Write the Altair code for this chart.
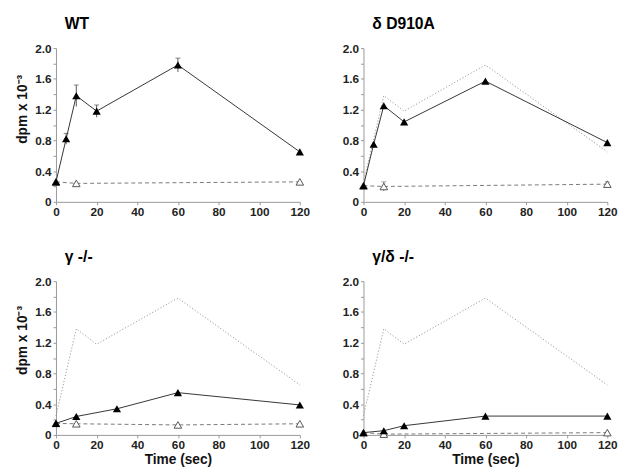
import altair as alt
import pandas as pd

# ---- data ----
panel_names = ["WT", "δ D910A", "γ -/-", "γ/δ -/-"]

# stimulated (filled triangles, solid line)
wt_t = [0, 5, 10, 20, 60, 120]
wt_v = [0.26, 0.82, 1.38, 1.18, 1.78, 0.65]
wt_e = [0, 0.07, 0.14, 0.08, 0.09, 0]

d910_t = [0, 5, 10, 20, 60, 120]
d910_v = [0.21, 0.75, 1.25, 1.04, 1.57, 0.77]
d910_e = [0, 0, 0, 0, 0, 0]

gko_t = [0, 10, 30, 60, 120]
gko_v = [0.15, 0.24, 0.34, 0.55, 0.39]
gko_e = [0, 0, 0, 0, 0]

gdko_t = [0, 10, 20, 60, 120]
gdko_v = [0.03, 0.055, 0.12, 0.245, 0.245]
gdko_e = [0, 0, 0, 0, 0]

# unstimulated (open triangles, dashed line)
wt_open_t = [0, 10, 120]
wt_open_v = [0.26, 0.24, 0.26]
wt_open_e = [0, 0, 0]

d910_open_t = [0, 10, 120]
d910_open_v = [0.21, 0.20, 0.23]
d910_open_e = [0, 0.06, 0.03]

gko_open_t = [0, 10, 60, 120]
gko_open_v = [0.15, 0.145, 0.13, 0.145]
gko_open_e = [0, 0, 0, 0]

gdko_open_t = [0, 10, 120]
gdko_open_v = [0.03, 0.01, 0.03]
gdko_open_e = [0, 0, 0]

# WT reference curve (dotted) shown in the other panels
ref_t = [0, 10, 20, 60, 120]
ref_v = [0.25, 1.38, 1.18, 1.78, 0.65]

x_ticks = [0, 20, 40, 60, 80, 100, 120]
y_ticks = [0, 0.2, 0.4, 0.6, 0.8, 1.0, 1.2, 1.4, 1.6, 1.8, 2.0]
y_label_every = 0.4  # labelled ticks

FONT = "Liberation Sans"

label_expr = ("datum.value == 0 ? '0' : (abs(datum.value / %g - round(datum.value / %g)) < 0.01 ? "
              "format(datum.value, '.1f') : '')" % (y_label_every, y_label_every))


def frame(t, v, e=None):
    if e is None:
        e = [0] * len(t)
    return pd.DataFrame({"t": t, "v": v, "lo": [a - b for a, b in zip(v, e)],
                         "hi": [a + b for a, b in zip(v, e)], "e": e})


def panel(name, filled, opened, show_ref, show_x_title, show_y_title, title_y):
    xscale = alt.Scale(domain=[0, 120], nice=False, zero=False)
    yscale = alt.Scale(domain=[0, 2.0], nice=False)
    xaxis = alt.Axis(values=x_ticks, title="Time  (sec)" if show_x_title else None)
    if show_y_title:
        yaxis = alt.Axis(values=y_ticks, labelExpr=label_expr,
                         title="dpm x 10⁻³", titleY=title_y)
    else:
        yaxis = alt.Axis(values=y_ticks, labelExpr=label_expr, title=None)
    xs = alt.X("t:Q", scale=xscale, axis=xaxis)

    def Y(field):
        return alt.Y(field + ":Q", scale=yscale, axis=yaxis)

    layers = []
    if show_ref:
        layers.append(alt.Chart(frame(ref_t, ref_v)).mark_line(
            color="#999", strokeWidth=1, strokeDash=[1.2, 2]).encode(x=xs, y=Y("v")))
    layers.append(alt.Chart(opened).mark_line(
        color="#777", strokeWidth=1, strokeDash=[4, 3]).encode(x=xs, y=Y("v")))
    oe = opened[opened.e > 0]
    if len(oe):
        layers.append(alt.Chart(oe).mark_rule(color="#777", strokeWidth=1).encode(
            x=xs, y=Y("lo"), y2="hi:Q"))
        layers.append(alt.Chart(oe).mark_tick(color="#777", size=5, thickness=1, orient="horizontal").encode(
            x=xs, y=Y("hi")))
    layers.append(alt.Chart(opened).mark_point(
        shape="triangle-up", size=60, filled=True, fill="white", stroke="#555", strokeWidth=1,
        opacity=1).encode(x=xs, y=Y("v")))
    layers.append(alt.Chart(filled).mark_line(color="#333", strokeWidth=1).encode(x=xs, y=Y("v")))
    fe = filled[filled.e > 0]
    if len(fe):
        layers.append(alt.Chart(fe).mark_rule(color="#555", strokeWidth=1).encode(
            x=xs, y=Y("lo"), y2="hi:Q"))
        layers.append(alt.Chart(fe).mark_tick(color="#555", size=5, thickness=1, orient="horizontal").encode(
            x=xs, y=Y("hi")))
    layers.append(alt.Chart(filled).mark_point(
        shape="triangle-up", size=70, filled=True, color="black", opacity=1).encode(x=xs, y=Y("v")))
    return alt.layer(*layers).properties(
        width=249, height=157,
        title=alt.TitleParams(text=name, anchor="start", frame="group", font=FONT, fontSize=16,
                              fontWeight="bold", dx=9, offset=11, color="black"))


p1 = panel(panel_names[0], frame(wt_t, wt_v, wt_e), frame(wt_open_t, wt_open_v, wt_open_e), False, False, True, 62)
p2 = panel(panel_names[1], frame(d910_t, d910_v, d910_e), frame(d910_open_t, d910_open_v, d910_open_e), True, False, False, 62)
p3 = panel(panel_names[2], frame(gko_t, gko_v, gko_e), frame(gko_open_t, gko_open_v, gko_open_e), True, True, True, 60)
p4 = panel(panel_names[3], frame(gdko_t, gdko_v, gdko_e), frame(gdko_open_t, gdko_open_v, gdko_open_e), True, True, False, 60)

chart = alt.concat(p1, p2, p3, p4, columns=2, spacing={"row": 32, "column": 32}).configure(
    background="white", padding={"left": 8, "top": 3, "right": 5, "bottom": 5}
).configure_view(
    stroke=None
).configure_axis(
    grid=False, domainColor="#999", tickColor="#999", tickSize=3, labelOverlap=False,
    labelFlush=False,
    labelFont=FONT, labelFontSize=12, labelFontWeight="bold", labelColor="#222",
    labelPadding=2, titleFont=FONT, titleFontSize=14, titleFontWeight="bold",
    titleColor="#111"
).configure_axisX(titlePadding=2).configure_axisY(titlePadding=5)

chart.save("out.html", embed_options={"renderer": "svg", "actions": False})
